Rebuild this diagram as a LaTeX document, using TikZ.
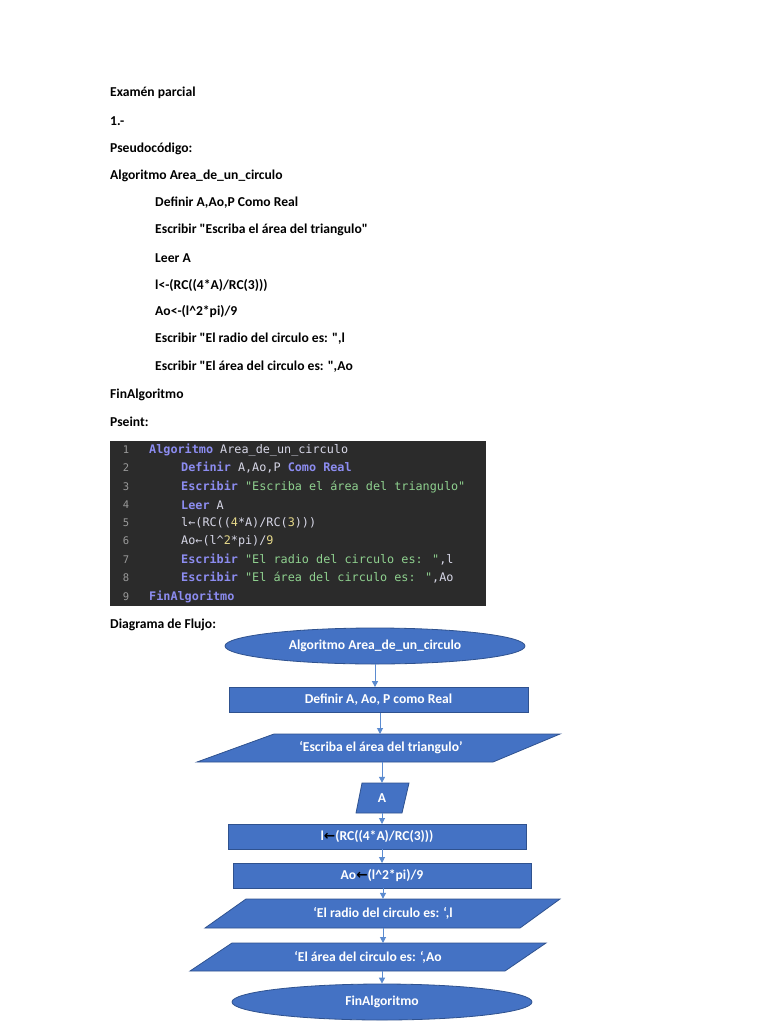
\documentclass[tikz,border=0pt]{standalone}
\usepackage{fontspec}
\setmainfont{Carlito}
\newfontfamily\codefont{DejaVu Sans Mono}
\newfontfamily\symfont{DejaVu Sans}
\usetikzlibrary{shapes.geometric,arrows.meta}
\definecolor{boxfill}{HTML}{4472C4}
\definecolor{boxline}{HTML}{2F528F}
\definecolor{arrc}{HTML}{5B8BD0}
\definecolor{codebg}{HTML}{2B2B2B}
\definecolor{kw}{HTML}{8C8CF0}
\definecolor{str}{HTML}{8FD18F}
\definecolor{num}{HTML}{E6D98A}
\definecolor{lnum}{HTML}{9A9A9A}
\definecolor{plain}{HTML}{D8D8E8}
\newcommand{\dq}{\textquotedbl}
\tikzset{
 txt/.style={anchor=west,font=\bfseries\fontsize{13.6}{15}\selectfont,inner sep=0},
 cl/.style={anchor=west,font=\codefont\fontsize{11.8}{13}\selectfont,inner sep=0,text=plain},
 ln/.style={anchor=center,font=\codefont\fontsize{10.5}{12}\selectfont,inner sep=0,text=lnum},
 fc/.style={fill=boxfill,draw=boxline,line width=0.8pt},
 ftext/.style={text=white,font=\bfseries\fontsize{13.6}{15}\selectfont},
 arr/.style={draw=arrc,line width=1pt,-{Triangle[length=6pt,width=6pt]}}
}
\begin{document}
\begin{tikzpicture}[x=1pt,y=-1pt]
\useasboundingbox[fill=white] (0,0) rectangle (768,1024);
% text
\node[txt] (t1) at (110,93) {Examén parcial};
\node[txt] (t2) at (110,121) {1.-};
\node[txt] (t3) at (110,149) {Pseudocódigo:};
\node[txt] (t4) at (110,176) {Algoritmo Area\_de\_un\_circulo};
\node[txt] (t5) at (155,203) {Definir A,Ao,P Como Real};
\node[txt] (t6) at (155,230) {Escribir \dq Escriba el área del triangulo\dq};
\node[txt] (t7) at (155,258) {Leer A};
\node[txt] (t8) at (155,285) {l<-(RC((4*A)/RC(3)))};
\node[txt] (t9) at (155,312) {Ao<-(l\textasciicircum 2*pi)/9};
\node[txt] (t10) at (155,339) {Escribir \dq El radio del circulo es: \dq,l};
\node[txt] (t11) at (155,367) {Escribir \dq El área del circulo es: \dq,Ao};
\node[txt] (t12) at (110,395) {FinAlgoritmo};
\node[txt] (t13) at (110,422) {Pseint:};
% code
\fill[codebg] (110,441) rectangle (486,606);
\foreach \i/\y in {1/450,2/468,3/487,4/505,5/523,6/541,7/560,8/578,9/597}
 \node[ln] (n\i) at (126,\y) {\i};
\node[cl] (c1) at (149,450) {\textbf{\color{kw}Algoritmo} Area\_de\_un\_circulo};
\node[cl] (c2) at (181,468) {\textbf{\color{kw}Definir} A,Ao,P \textbf{\color{kw}Como Real}};
\node[cl] (c3) at (181,487) {\textbf{\color{kw}Escribir} \color{str}\dq Escriba el área del triangulo\dq};
\node[cl] (c4) at (181,505) {\textbf{\color{kw}Leer} A};
\node[cl] (c5) at (181,523) {l←(RC((\color{num}4\color{plain}*A)/RC(\color{num}3\color{plain})))};
\node[cl] (c6) at (181,541) {Ao←(l\textasciicircum\color{num}2\color{plain}*pi)/\color{num}9};
\node[cl] (c7) at (181,560) {\textbf{\color{kw}Escribir} {\color{str}\dq El radio del circulo es: \dq},l};
\node[cl] (c8) at (181,578) {\textbf{\color{kw}Escribir} {\color{str}\dq El área del circulo es: \dq},Ao};
\node[cl] (c9) at (149,597) {\textbf{\color{kw}FinAlgoritmo}};
\node[txt] (t14) at (110,625) {Diagrama de Flujo:};
% flowchart
\node[ellipse,fc,ftext,minimum width=300,minimum height=36] (e1) at (375,646) {Algoritmo Area\_de\_un\_circulo};
\node[rectangle,fc,ftext,minimum width=299,minimum height=25] (d1) at (378.5,700) {Definir A, Ao, P como Real};
\fill[boxfill,draw=boxline,line width=0.8pt] (274,734) -- (560,734) -- (493,762) -- (197,762) -- cycle;
\node[ftext,minimum height=28,inner sep=0] (p1) at (381,748) {‘Escriba el área del triangulo’};
\fill[boxfill,draw=boxline,line width=0.8pt] (362,783) -- (409,783) -- (402,813) -- (356,813) -- cycle;
\node[ftext,minimum height=30,inner sep=0] (a1) at (382,798) {A};
\node[rectangle,fc,ftext,minimum width=298,minimum height=25] (r1) at (377,836.5) {l\textcolor{black}{\symfont ←}(RC((4*A)/RC(3)))};
\node[rectangle,fc,ftext,minimum width=298,minimum height=25] (r2) at (382,875.5) {Ao\textcolor{black}{\symfont ←}(l\textasciicircum 2*pi)/9};
\fill[boxfill,draw=boxline,line width=0.8pt] (246,899) -- (560,899) -- (520,928) -- (205,928) -- cycle;
\node[ftext,minimum height=29,inner sep=0] (p2) at (383,913.5) {‘El radio del circulo es: ‘,l};
\fill[boxfill,draw=boxline,line width=0.8pt] (232,943) -- (546,943) -- (505,971) -- (190,971) -- cycle;
\node[ftext,minimum height=28,inner sep=0] (p3) at (368,957) {‘El área del circulo es: ‘,Ao};
\node[ellipse,fc,ftext,minimum width=300,minimum height=36] (e2) at (382,1002) {FinAlgoritmo};
\draw[arr] (e1.south) -- (e1.south |- d1.north);
\draw[arr] (d1.south -| 380,0) -- (380,734);
\draw[arr] (382,762) -- (a1.north);
\draw[arr] (382,813) -- (382,824);
\draw[arr] (382,849) -- (382,863);
\draw[arr] (383,888) -- (p2.north);
\draw[arr] (383,928) -- (383,943);
\draw[arr] (382,971) -- (e2.north);
\end{tikzpicture}
\end{document}
